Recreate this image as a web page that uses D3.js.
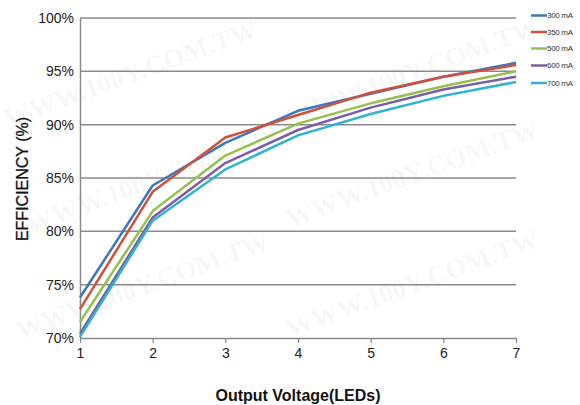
<!DOCTYPE html>
<html><head><meta charset="utf-8">
<script src="https://cdn.jsdelivr.net/npm/d3@7"></script>
<style>body{margin:0;background:#fff}svg{display:block}</style>
</head><body><svg id="c" width="580" height="405"></svg>
<script>
const xValues = [1, 2, 3, 4, 5, 6, 7];
const yTicks = [70, 75, 80, 85, 90, 95, 100];
const seriesNames = ["300 mA", "350 mA", "500 mA", "600 mA", "700 mA"];
const s300 = [73.8, 84.3, 88.3, 91.3, 92.9, 94.5, 95.8];
const s350 = [72.7, 83.7, 88.8, 90.9, 93.0, 94.5, 95.6];
const s500 = [71.5, 81.9, 87.1, 90.1, 92.0, 93.6, 95.0];
const s600 = [70.4, 81.3, 86.4, 89.5, 91.6, 93.3, 94.5];
const s700 = [70.1, 81.0, 85.8, 89.0, 91.0, 92.7, 94.0];
const seriesValues = [s300, s350, s500, s600, s700];
const colors = ["#3b78c0", "#d0503e", "#97c04e", "#7b5ea6", "#2fb3d2"];

const svg = d3.select("#c");
const L = 80, R = 516, T = 18, B = 338;
const x = d3.scaleLinear().domain([1, 7]).range([L, R]);
const y = d3.scaleLinear().domain([70, 100]).range([B, T]);

// watermark
const wm = svg.append("g");
const wmPos = [[8,128],[290,126],[30,234],[290,228],[20,340],[290,338]];
wmPos.forEach(p => {
  wm.append("text").attr("transform", `translate(${p[0]},${p[1]}) rotate(-20)`)
    .attr("font-family", "Liberation Serif, serif").attr("font-weight", "bold")
    .attr("font-size", 27).attr("fill", "rgba(0,0,0,0.05)").text("WWW.100Y.COM.TW");
});

// gridlines
svg.append("g").selectAll("line").data(yTicks.filter(d => d > 70)).join("line")
  .attr("x1", L).attr("x2", R).attr("y1", d => y(d)).attr("y2", d => y(d))
  .attr("stroke", "#8a8a8a").attr("stroke-width", 1.5);

// y axis
const ya = svg.append("g").attr("transform", `translate(${L},0)`)
  .call(d3.axisLeft(y).tickValues(yTicks).tickFormat(d => d + "%").tickSize(0).tickPadding(6));
ya.select(".domain").attr("stroke", "#8a8a8a").attr("stroke-width", 1.5);
ya.selectAll("text").attr("font-family", "Liberation Sans, Arial, sans-serif").attr("font-size", 14).attr("fill", "#222");

// x axis
const xa = svg.append("g").attr("transform", `translate(0,${B})`)
  .call(d3.axisBottom(x).tickValues(xValues).tickFormat(d3.format("d")).tickSizeInner(5).tickSizeOuter(0).tickPadding(5));
xa.select(".domain").attr("stroke", "#8a8a8a").attr("stroke-width", 1.5);
xa.selectAll(".tick line").attr("stroke", "#8a8a8a").attr("stroke-width", 1.2);
xa.selectAll("text").attr("font-family", "Liberation Sans, Arial, sans-serif").attr("font-size", 14).attr("fill", "#222");

// lines
const line = d3.line().x((d, i) => x(xValues[i])).y(d => y(d));
svg.append("g").selectAll("path").data(seriesValues).join("path")
  .attr("d", line).attr("fill", "none")
  .attr("stroke", (d, i) => colors[i]).attr("stroke-width", 2.5).attr("stroke-linejoin", "round");

// legend
const lg = svg.append("g");
const legY = [15.5, 32, 48.5, 65.5, 83];
seriesNames.forEach((n, i) => {
  lg.append("line").attr("x1", 531).attr("x2", 547).attr("y1", legY[i]).attr("y2", legY[i])
    .attr("stroke", colors[i]).attr("stroke-width", 2.5);
  lg.append("text").attr("x", 547).attr("y", legY[i]).attr("dy", "0.35em")
    .attr("font-family", "Liberation Sans Narrow, Liberation Sans, Arial, sans-serif")
    .attr("font-size", 8).attr("fill", "#333").attr("letter-spacing", -0.3).text(n);
});

// titles
svg.append("text").attr("x", 298).attr("y", 401).attr("text-anchor", "middle")
  .attr("font-family", "Liberation Sans, Arial, sans-serif").attr("font-weight", "bold")
  .attr("font-size", 16).attr("fill", "#111").text("Output Voltage(LEDs)");
svg.append("text").attr("transform", "translate(28,179) rotate(-90)").attr("text-anchor", "middle")
  .attr("font-family", "Liberation Sans, Arial, sans-serif")
  .attr("font-size", 16).attr("fill", "#111").attr("stroke", "#111").attr("stroke-width", 0.3)
  .text("EFFICIENCY (%)");
</script></body></html>
